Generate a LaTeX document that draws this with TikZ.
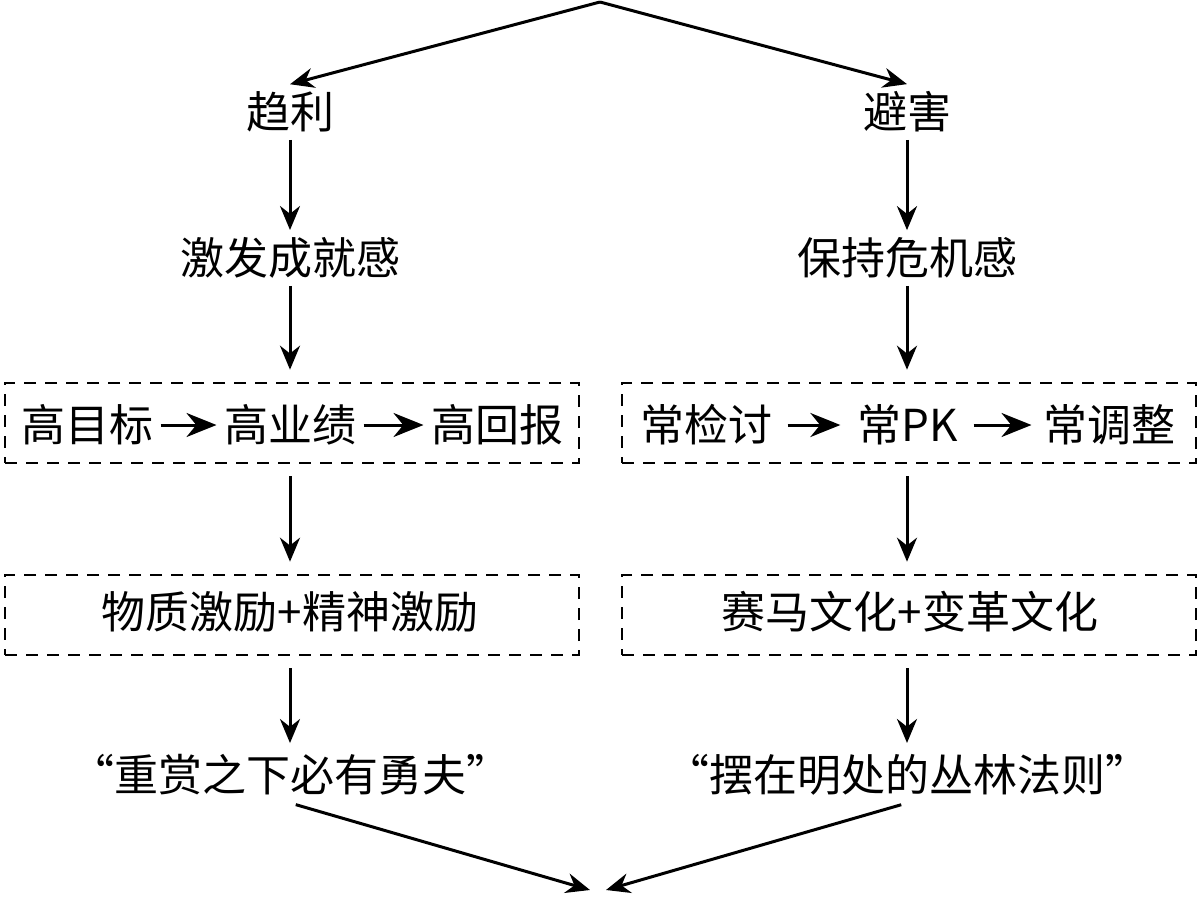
\documentclass[tikz,border=0pt]{standalone}
\usepackage{fontspec}
\setmainfont{Noto Sans CJK SC}
\usetikzlibrary{arrows.meta, positioning}

\begin{document}
\begin{tikzpicture}[x=0.5pt, y=-0.5pt, line width=1.5pt,
    >={Stealth[length=12pt, width=10pt]},
    every node/.style={font=\fontsize{22}{26}\selectfont, inner sep=3pt},
    dashbox/.style={draw, line width=1.3pt, dash pattern=on 6pt off 4.5pt, minimum width=287pt, minimum height=40pt},
    inarrow/.style={->, >={Stealth[length=15pt, width=12pt]}}]
  \useasboundingbox (0,0) rectangle (1200,900);
  % Top and bottom ends
  \coordinate (top) at (600,2);
  \coordinate (botl) at (590,890);
  \coordinate (botr) at (606,890);
  % Left column
  \node (quli) at (290,112) {趋利};
  \node (jifa) at (290,258) {激发成就感};
  \node[dashbox] (boxl) at (292,423) {};
  \node (gmb) at (87,425) {高目标};
  \node (gyj) at (290,425) {高业绩};
  \node (ghb) at (497,425) {高回报};
  \node[dashbox] (jili) at (292,615) {};
  \node at (290,612) {物质激励+精神激励};
  \node (zhong) at (290,775) {“重赏之下必有勇夫”};
  % Right column
  \node (bihai) at (907,112) {避害};
  \node (baochi) at (907,258) {保持危机感};
  \node[dashbox] (boxr) at (909,423) {};
  \node (cjt) at (706,425) {常检讨};
  \node (cpk) at (908,425) {常PK};
  \node (ctz) at (1109,425) {常调整};
  \node[dashbox] (saima) at (909,615) {};
  \node at (910,612) {赛马文化+变革文化};
  \node (baizai) at (907,775) {“摆在明处的丛林法则”};
  % Arrows
  \draw[->] (top) -- (quli.north);
  \draw[->] (top) -- (bihai.north);
  \draw[->] (quli) -- (jifa);
  \draw[->] (bihai) -- (baochi);
  \draw[->, shorten >=6pt] (jifa) -- (jifa |- boxl.north);
  \draw[->, shorten >=6pt] (baochi) -- (baochi |- boxr.north);
  \draw[->, shorten <=6pt, shorten >=6pt] (jifa |- boxl.south) -- (jifa |- jili.north);
  \draw[->, shorten <=6pt, shorten >=6pt] (baochi |- boxr.south) -- (baochi |- saima.north);
  \draw[->, shorten <=6pt, shorten >=2pt] (jifa |- jili.south) -- (zhong);
  \draw[->, shorten <=6pt, shorten >=2pt] (baochi |- saima.south) -- (baizai);
  \draw[->, shorten <=3pt] (zhong.south) -- (botl);
  \draw[->, shorten <=3pt] (baizai.south) -- (botr);
  % Arrows inside boxes
  \draw[inarrow] (gmb) -- (gyj);
  \draw[inarrow] (gyj) -- (ghb);
  \draw[inarrow, shorten <=4pt, shorten >=5pt] (cjt) -- (cpk);
  \draw[inarrow, shorten <=4pt, shorten >=2pt] (cpk) -- (ctz);
\end{tikzpicture}
\end{document}
